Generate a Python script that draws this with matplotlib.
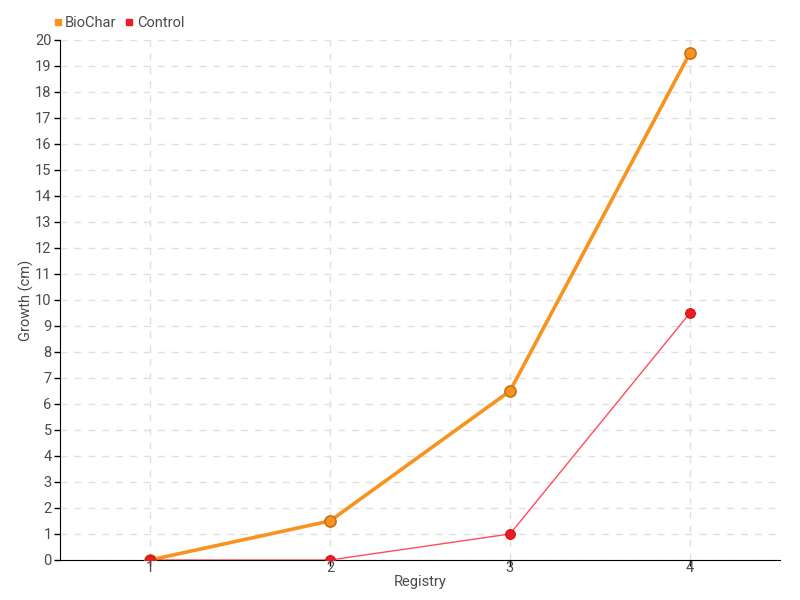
import matplotlib.pyplot as plt
from matplotlib.lines import Line2D

plt.rcParams['font.family'] = ['Roboto', 'DejaVu Sans']

registros = [1, 2, 3, 4]
biochar = [0, 1.5, 6.5, 19.5]
control = [0, 0, 1, 9.5]

gris = '#4a4a4a'

fig = plt.figure(figsize=(8, 6), dpi=100)
ax = fig.add_axes([0.075, 0.0667, 0.9, 0.8667])

ax.plot(registros, biochar, color='#f7931e', lw=2.6, marker='o', ms=8,
        mfc='#f7931e', mec='#c8701a', mew=1.2, zorder=3)
ax.plot(registros, control, color='#ff2d3f', lw=1, alpha=0.85, zorder=4)
ax.plot(registros, control, ls='none', marker='o', ms=7, mfc='#ed1c24',
        mec='#d0101a', mew=0.8, zorder=5)

ax.set_xlim(0.5, 4.5)
ax.set_ylim(0, 20)
ax.set_xticks(registros)
ax.set_yticks(range(0, 21))
ax.tick_params(labelsize=10.5, labelcolor=gris, color='black', length=4, width=1)
ax.tick_params(axis='x', pad=-3)
ax.tick_params(axis='y', pad=2)
ax.grid(True, ls=(0, (5, 5)), color='#e0e0e0', lw=1)
ax.set_axisbelow(True)
for s in ['top', 'right']:
    ax.spines[s].set_visible(False)
ax.spines['left'].set_color('black')
ax.spines['bottom'].set_color('black')

ax.set_xlabel('Registry', fontsize=10.5, color=gris)
ax.set_ylabel('Growth (cm)', fontsize=10.5, color=gris)
ax.xaxis.set_label_coords(0.5, -0.028)
ax.yaxis.set_label_coords(-0.036, 0.5)

handles = [Line2D([], [], ls='none', marker='s', ms=5, color='#f7931e'),
           Line2D([], [], ls='none', marker='s', ms=5, color='#ed1c24')]
fig.legend(handles, ['BioChar', 'Control'], loc='upper left',
           bbox_to_anchor=(0.05, 0.995), ncol=2, frameon=False,
           fontsize=10.5, handlelength=0.6, handletextpad=0.2,
           columnspacing=0.6, labelcolor=gris)

fig.savefig('out.png', dpi=100)
